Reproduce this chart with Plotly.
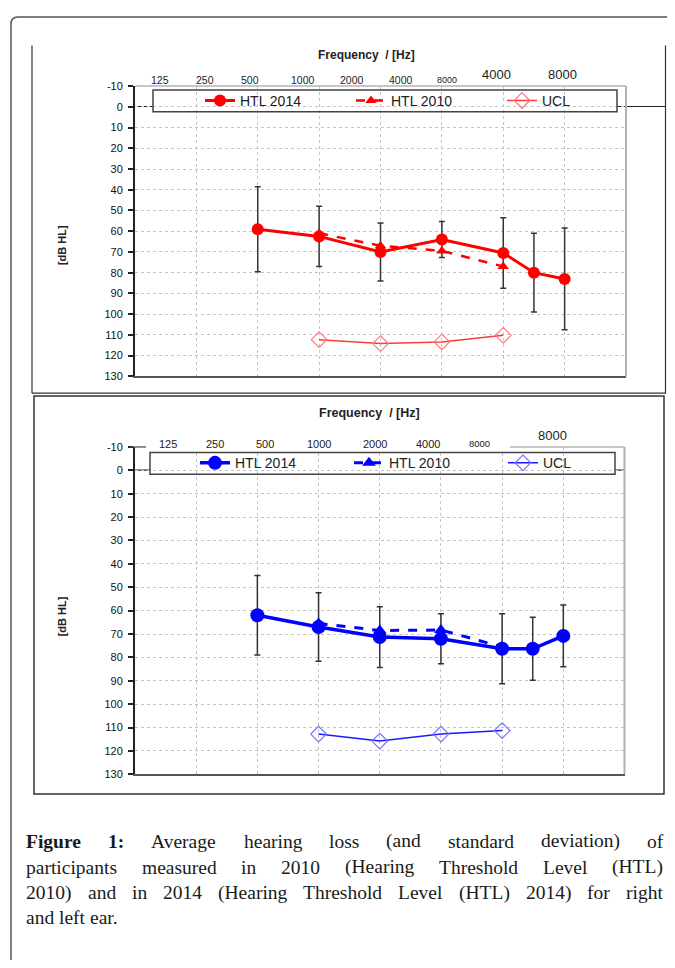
import plotly.graph_objects as go

# ---------------- data ----------------
freq_index = [2, 3, 4, 5, 6, 6.5, 7]          # positions of the measured frequencies on the chart grid
freq_index_2010 = [3, 4, 5, 6]
freq_index_ucl = [3, 4, 5, 6]

right_htl2014 = [59, 62.5, 70, 64, 70.5, 80, 83]
right_sd2014 = [20.5, 14.5, 14, 8.7, 17, 19, 24.5]
right_htl2010 = [61, 67, 69.5, 77]
right_ucl = [112.3, 114.2, 113.4, 110.2]

left_htl2014 = [62, 67, 71.3, 72, 76.3, 76.3, 70.8]
left_sd2014 = [17, 14.7, 13, 10.7, 15, 13.5, 13.2]
left_htl2010 = [65.5, 68.5, 68.3, 75.5]
left_ucl = [112.8, 115.8, 112.8, 111.3]

y_tick_values = [-10, 0, 10, 20, 30, 40, 50, 60, 70, 80, 90, 100, 110, 120, 130]
y_tick_text = ["-10", "0", "10", "20", "30", "40", "50", "60", "70", "80", "90", "100", "110", "120", "130"]
x_grid_values = [1, 2, 3, 4, 5, 6, 7]
top_freq_labels = ["125", "250", "500", "1000", "2000", "4000", "8000"]
top_freq_labels_big = ["4000", "8000"]
bottom_freq_labels = ["125", "250", "500", "1000", "2000", "4000", "8000"]
bottom_freq_labels_big = ["8000"]
series_names = ["HTL 2014", "HTL 2010", "UCL"]

caption_lines = [
    "Figure 1: Average hearing loss (and standard deviation) of",
    "participants measured in 2010 (Hearing Threshold Level (HTL)",
    "2010) and in 2014 (Hearing Threshold Level (HTL) 2014) for right",
    "and left ear.",
]

# ---------------- layout helpers ----------------
# the page body has an 8px margin and the visible width ends near x=667
OFF = 8
W, H = 667 - OFF, 968 - 2 * OFF


def px(x):
    return (x - OFF) / W


def py(y):
    return 1 - (y - OFF) / H


SANS = "Liberation Sans, Arial, sans-serif"
SERIF = "Liberation Serif, Times New Roman, serif"

fig = go.Figure()


def add_panel(xa, ya, leg, color, ucl_line, ucl_marker, htl14, sd14, htl10, ucl, msize, lw):
    fig.add_trace(go.Scatter(
        x=freq_index, y=htl14, mode="lines+markers", name=series_names[0],
        line=dict(color=color, width=lw), marker=dict(symbol="circle", size=msize, color=color),
        error_y=dict(type="data", array=sd14, symmetric=True, color="#333333", thickness=1.5, width=3),
        xaxis=xa, yaxis=ya, legend=leg, cliponaxis=False))
    fig.add_trace(go.Scatter(
        x=freq_index_2010, y=htl10, mode="lines+markers", name=series_names[1],
        line=dict(color=color, width=lw - 0.5, dash="dash"),
        marker=dict(symbol="triangle-up", size=msize - 2, color=color),
        xaxis=xa, yaxis=ya, legend=leg, cliponaxis=False))
    fig.add_trace(go.Scatter(
        x=freq_index_ucl, y=ucl, mode="lines+markers", name=series_names[2],
        line=dict(color=ucl_line, width=1.5),
        marker=dict(symbol="diamond-open", size=12, color=ucl_marker, line=dict(width=1.2)),
        xaxis=xa, yaxis=ya, legend=leg, cliponaxis=False))


add_panel("x", "y", "legend", "#ff0000", "#ff3a3a", "#ff7a7a",
          right_htl2014, right_sd2014, right_htl2010, right_ucl, 12, 3)
add_panel("x2", "y2", "legend2", "#0000ff", "#1a1aff", "#7373ff",
          left_htl2014, left_sd2014, left_htl2010, left_ucl, 14, 3.5)

# plot-area pixel geometry (page pixels)
TOP = dict(x0=135, x1=626, y0=81, y1=375)
BOT = dict(x0=135, x1=624.5, y0=446.5, y1=778)

grid = dict(showgrid=True, gridcolor="#c4c4c4", griddash="dot", gridwidth=1, zeroline=False)


def xaxis_cfg(g, anchor):
    return dict(domain=[px(g["x0"]), px(g["x1"])], range=[0, 8], tickvals=x_grid_values,
                showticklabels=False, ticks="", showline=True, linecolor="#555555", linewidth=2,
                anchor=anchor, fixedrange=True, **grid)


def yaxis_cfg(g, anchor):
    return dict(domain=[py(g["y1"]), py(g["y0"])], range=[130, -10], tickvals=y_tick_values,
                ticktext=y_tick_text,
                ticks="outside", ticklen=5, tickwidth=1.5, tickcolor="#222222",
                showline=True, linecolor="#222222", linewidth=2, anchor=anchor,
                tickfont=dict(family=SANS, size=11, color="#111111"), ticklabelstandoff=3,
                fixedrange=True, **grid)


shapes = []


def line(x0, y0, x1, y1, color="#333333", width=1, layer="above", dash="solid"):
    shapes.append(dict(type="line", xref="paper", yref="paper", x0=px(x0), y0=py(y0), x1=px(x1), y1=py(y1),
                       line=dict(color=color, width=width, dash=dash), layer=layer))


def rect(x0, y0, x1, y1, color="#333333", width=1, fill="rgba(0,0,0,0)", layer="above"):
    shapes.append(dict(type="rect", xref="paper", yref="paper", x0=px(x0), y0=py(y0), x1=px(x1), y1=py(y1),
                       line=dict(color=color, width=width), fillcolor=fill, layer=layer))


# outer figure border with rounded top-left corner
shapes.append(dict(type="path", xref="paper", yref="paper",
                   path=f"M {px(11)},{py(990)} L {px(11)},{py(18)} Q {px(11)},{py(11)} {px(18)},{py(11)} L {px(700)},{py(11)}",
                   line=dict(color="#555555", width=1.5)))
# panel frames
line(32, 40, 32, 392, "#333333", 1.2)
line(32, 392, 666, 392, "#333333", 1.2)
line(665.5, 40, 665.5, 392, "#333333", 1.2)
rect(34, 395, 664, 798, "#333333", 1.5)

# top panel: zero line, legend box, borders
line(135, 101.7, 666, 101.7, "#222222", 1.2, layer="below")
rect(153, 85, 617, 107, "rgba(0,0,0,0)", 0, fill="white", layer="below")
rect(153, 85, 617, 107, "#444444", 1.5)
line(135, 81, 626, 81, "#b4b4b4", 1.5)
line(626, 81, 626, 375, "#b0b0b0", 2)

# bottom panel
line(135, 470, 624.5, 470, "#222222", 1.2, layer="below")
rect(150, 452, 615, 474, "rgba(0,0,0,0)", 0, fill="white", layer="below")
rect(150, 452, 615, 474, "#444444", 1.5)
rect(146, 443.5, 509, 449.5, "rgba(0,0,0,0)", 0, fill="white", layer="above")
line(510, 446.5, 624.5, 446.5, "#b4b4b4", 1.5)
line(130, 446.5, 146, 446.5, "#444444", 1.2)
line(624.5, 446.5, 624.5, 778, "#b0b0b0", 2)

annotations = []


def text(x, y, s, size, bold=False, family=SANS, color="#222222", xanchor="center", yanchor="middle", angle=0):
    annotations.append(dict(xref="paper", yref="paper", x=px(x), y=py(y), text=(f"<b>{s}</b>" if bold else s),
                            showarrow=False, xanchor=xanchor, yanchor=yanchor, textangle=angle,
                            font=dict(family=family, size=size, color=color)))


# axis titles
text(367, 50, "Frequency\u00a0 / [Hz]", 12, bold=True)
text(370, 412, "Frequency\u00a0 / [Hz]", 12.5, bold=True)
text(62, 242, "[dB HL]", 11, bold=True, angle=-90)
text(62, 618, "[dB HL]", 11, bold=True, angle=-90)

# frequency labels above plot areas (positions as drawn in the original)
top_lab_px = [160, 205, 250, 303, 352, 401, 447]
top_lab_size = [10.5, 10.5, 10.5, 10.5, 10.5, 10.5, 9]
for lab, xx, sz in zip(top_freq_labels, top_lab_px, top_lab_size):
    text(xx, 75, lab, sz)
for lab, xx in zip(top_freq_labels_big, [497, 562]):
    text(xx, 69, lab, 13)

bot_lab_px = [168, 215, 265, 319, 375, 428, 479]
bot_lab_size = [11, 11, 11, 11, 11, 11, 9.5]
for lab, xx, sz in zip(bottom_freq_labels, bot_lab_px, bot_lab_size):
    text(xx, 443, lab, sz)
for lab, xx in zip(bottom_freq_labels_big, [552]):
    text(xx, 435, lab, 13)

# ---------------- caption (justified, word by word) ----------------
TIMES_R = {" ": 250, "(": 333, ")": 333, ".": 250, ":": 278, "A": 722, "F": 556, "H": 722, "L": 611, "T": 611,
           "a": 444, "b": 500, "c": 444, "d": 500, "e": 444, "f": 333, "g": 500, "h": 500, "i": 278, "j": 278,
           "k": 500, "l": 278, "m": 778, "n": 500, "o": 500, "p": 500, "q": 500, "r": 333, "s": 389, "t": 278,
           "u": 500, "v": 500, "w": 722, "x": 500, "y": 500, "z": 444}
TIMES_B = {"F": 611, "i": 278, "g": 500, "u": 556, "r": 444, "e": 444, "1": 500, ":": 333}
CAP_SIZE = 19.5
PAD = 2  # annotation inset (borderpad + borderwidth)


def wwidth(word, bold):
    tbl = TIMES_B if bold else TIMES_R
    return sum(tbl.get(c, 500) for c in word) * CAP_SIZE / 1000


cap_left, cap_right = 26, 663
cap_y = [846, 872, 898, 923]
for li, (ln, yy) in enumerate(zip(caption_lines, cap_y)):
    words = ln.split(" ")
    bolds = [li == 0 and wi < 2 for wi in range(len(words))]
    widths = [wwidth(w, b) for w, b in zip(words, bolds)]
    if li < len(caption_lines) - 1:
        gap = (cap_right - cap_left - sum(widths)) / (len(words) - 1)
    else:
        gap = 0.25 * CAP_SIZE
    xx = cap_left
    for w, b, wd in zip(words, bolds, widths):
        text(xx - PAD, yy, w, CAP_SIZE, bold=b, family=SERIF, color="#1a1a1a", xanchor="left")
        xx += wd + gap

legend_common = dict(orientation="h", xanchor="left", yanchor="middle", bgcolor="rgba(0,0,0,0)",
                     borderwidth=0, font=dict(family=SANS, size=14, color="#222222"),
                     entrywidthmode="pixels", itemwidth=30, tracegroupgap=0)

fig.update_layout(
    width=W, height=H, margin=dict(l=0, r=0, t=0, b=0),
    paper_bgcolor="white", plot_bgcolor="white",
    xaxis=xaxis_cfg(TOP, "y"), yaxis=yaxis_cfg(TOP, "x"),
    xaxis2=xaxis_cfg(BOT, "y2"), yaxis2=yaxis_cfg(BOT, "x2"),
    legend=dict(x=px(200), y=py(96), entrywidth=106, **legend_common),
    legend2=dict(x=px(195), y=py(463), entrywidth=109, **legend_common),
    shapes=shapes, annotations=annotations,
    showlegend=True,
)

fig.write_html("out.html")
